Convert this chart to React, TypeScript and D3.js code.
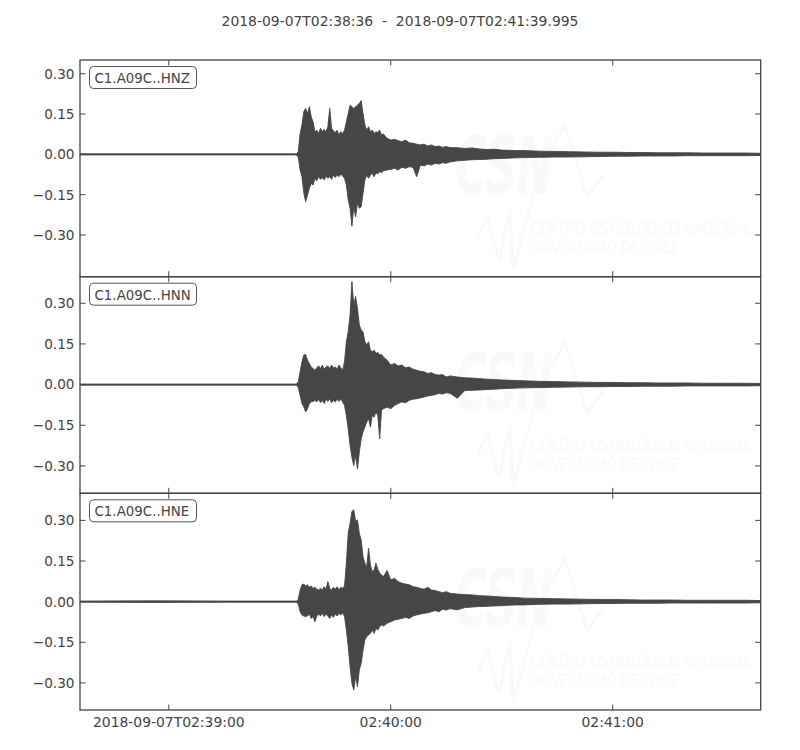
import React from "react";
import * as d3 from "d3";

const titleText = "2018-09-07T02:38:36  -  2018-09-07T02:41:39.995";
const traceLabels = ["C1.A09C..HNZ", "C1.A09C..HNN", "C1.A09C..HNE"];
const durationSec = 183.995;
const xTickSeconds = [24, 84, 144];
const xTickLabels = ["2018-09-07T02:39:00", "02:40:00", "02:41:00"];
const yTickValues = [0.3, 0.15, 0, -0.15, -0.3];
const yDomains: [number, number][] = [[-0.455, 0.351], [-0.401, 0.398], [-0.4, 0.4]];

// seconds after 02:38:36
const times = [
  0, 20, 40, 58,
  58.5, 59, 59.5, 60, 60.5, 61, 61.5, 62, 62.5, 63, 63.5, 64, 64.5, 65, 65.5, 66, 66.5, 67, 67.5, 68,
  68.5, 69, 69.5, 70, 70.5, 71, 71.5, 72, 72.5, 73, 73.5, 74, 74.5, 75, 75.5, 76, 76.5, 77, 77.5, 78,
  78.5, 79, 79.5, 80, 80.5, 81, 81.5, 82,
  83, 84, 85, 86, 87, 88, 89, 90, 91, 92, 93, 94, 95, 96, 97, 98, 99, 100,
  102, 104, 106, 108, 110, 112, 114, 116, 118, 120,
  124, 128, 132, 136, 140, 144, 148, 152, 156, 160, 164, 168, 172, 176, 180, 184,
];

const hnzMax = [
  0.002, 0.002, 0.002, 0.002,
  0.002, 0.01, 0.078, 0.109, 0.159, 0.171, 0.152, 0.177, 0.14, 0.12, 0.084, 0.09, 0.078, 0.097, 0.084, 0.093, 0.084, 0.103, 0.171, 0.097,
  0.088, 0.081, 0.09, 0.072, 0.084, 0.078, 0.09, 0.121, 0.152, 0.183, 0.177, 0.171, 0.177, 0.183, 0.19, 0.2, 0.152, 0.109, 0.09, 0.103,
  0.084, 0.09, 0.078, 0.084, 0.081, 0.09, 0.072, 0.076,
  0.06, 0.053, 0.056, 0.051, 0.047, 0.053, 0.043, 0.041, 0.038, 0.035, 0.038, 0.031, 0.035, 0.029, 0.031, 0.026, 0.029, 0.025,
  0.025, 0.022, 0.024, 0.02, 0.018, 0.019, 0.016, 0.015, 0.014, 0.014,
  0.012, 0.011, 0.01, 0.009, 0.008, 0.008, 0.007, 0.007, 0.006, 0.006, 0.006, 0.005, 0.005, 0.005, 0.005, 0.004,
];
const hnzMin = [
  -0.002, -0.002, -0.002, -0.002,
  -0.002, -0.01, -0.058, -0.083, -0.145, -0.176, -0.151, -0.126, -0.108, -0.114, -0.089, -0.098, -0.083, -0.093, -0.086, -0.095, -0.081, -0.089, -0.083, -0.093,
  -0.077, -0.086, -0.077, -0.083, -0.073, -0.081, -0.089, -0.114, -0.17, -0.2, -0.267, -0.195, -0.232, -0.182, -0.2, -0.195, -0.145, -0.095, -0.077, -0.089,
  -0.077, -0.071, -0.083, -0.068, -0.073, -0.064, -0.068, -0.061,
  -0.058, -0.056, -0.052, -0.058, -0.048, -0.052, -0.046, -0.048, -0.083, -0.04, -0.043, -0.036, -0.04, -0.033, -0.036, -0.031, -0.033, -0.028,
  -0.024, -0.022, -0.02, -0.019, -0.018, -0.016, -0.015, -0.014, -0.013, -0.012,
  -0.011, -0.01, -0.01, -0.009, -0.008, -0.007, -0.007, -0.006, -0.006, -0.006, -0.005, -0.005, -0.005, -0.005, -0.005, -0.004,
];

const hnnMax = [
  0.002, 0.002, 0.002, 0.002,
  0.002, 0.01, 0.047, 0.084, 0.109, 0.111, 0.09, 0.078, 0.065, 0.059, 0.053, 0.062, 0.069, 0.059, 0.072, 0.057, 0.065, 0.069, 0.059, 0.072,
  0.062, 0.065, 0.057, 0.072, 0.062, 0.053, 0.084, 0.158, 0.195, 0.257, 0.38, 0.294, 0.325, 0.281, 0.22, 0.201, 0.195, 0.158, 0.146, 0.158,
  0.127, 0.121, 0.127, 0.115, 0.119, 0.109, 0.111, 0.102,
  0.09, 0.072, 0.078, 0.069, 0.072, 0.062, 0.065, 0.057, 0.053, 0.049, 0.047, 0.041, 0.044, 0.037, 0.035, 0.037, 0.028, 0.032,
  0.028, 0.025, 0.024, 0.022, 0.02, 0.019, 0.017, 0.016, 0.015, 0.014,
  0.012, 0.011, 0.01, 0.009, 0.008, 0.008, 0.007, 0.007, 0.006, 0.006, 0.006, 0.005, 0.005, 0.005, 0.005, 0.004,
];
const hnnMin = [
  -0.002, -0.002, -0.002, -0.002,
  -0.002, -0.01, -0.04, -0.07, -0.083, -0.101, -0.089, -0.07, -0.064, -0.062, -0.058, -0.064, -0.054, -0.067, -0.058, -0.07, -0.054, -0.062, -0.052, -0.067,
  -0.058, -0.064, -0.054, -0.062, -0.052, -0.064, -0.077, -0.114, -0.163, -0.225, -0.268, -0.299, -0.262, -0.311, -0.249, -0.2, -0.175, -0.157, -0.138, -0.126,
  -0.157, -0.114, -0.12, -0.101, -0.114, -0.2, -0.095, -0.089,
  -0.083, -0.089, -0.077, -0.07, -0.064, -0.067, -0.058, -0.054, -0.052, -0.049, -0.046, -0.042, -0.04, -0.037, -0.033, -0.035, -0.03, -0.032,
  -0.05, -0.022, -0.021, -0.02, -0.018, -0.017, -0.015, -0.014, -0.013, -0.012,
  -0.011, -0.01, -0.009, -0.008, -0.008, -0.007, -0.007, -0.006, -0.006, -0.006, -0.005, -0.005, -0.005, -0.005, -0.005, -0.004,
];

const hneMax = [
  0.002, 0.003, 0.002, 0.002,
  0.002, 0.008, 0.043, 0.062, 0.065, 0.058, 0.062, 0.053, 0.058, 0.049, 0.053, 0.046, 0.043, 0.049, 0.043, 0.055, 0.046, 0.074, 0.049, 0.043,
  0.053, 0.046, 0.055, 0.043, 0.053, 0.049, 0.058, 0.142, 0.252, 0.289, 0.333, 0.339, 0.296, 0.302, 0.252, 0.228, 0.166, 0.142, 0.129, 0.197,
  0.135, 0.111, 0.117, 0.142, 0.119, 0.105, 0.099, 0.092,
  0.115, 0.08, 0.086, 0.074, 0.068, 0.065, 0.062, 0.055, 0.053, 0.049, 0.046, 0.053, 0.043, 0.041, 0.037, 0.033, 0.037, 0.031,
  0.028, 0.026, 0.025, 0.022, 0.021, 0.019, 0.017, 0.016, 0.015, 0.013,
  0.012, 0.011, 0.01, 0.009, 0.008, 0.008, 0.007, 0.006, 0.006, 0.006, 0.005, 0.005, 0.005, 0.005, 0.005, 0.004,
];
const hneMin = [
  -0.002, -0.003, -0.002, -0.002,
  -0.002, -0.008, -0.037, -0.049, -0.053, -0.055, -0.053, -0.046, -0.062, -0.055, -0.074, -0.053, -0.046, -0.053, -0.043, -0.055, -0.046, -0.053, -0.062, -0.049,
  -0.058, -0.046, -0.053, -0.043, -0.049, -0.041, -0.055, -0.105, -0.166, -0.24, -0.302, -0.326, -0.277, -0.314, -0.252, -0.228, -0.179, -0.142, -0.129, -0.123,
  -0.117, -0.105, -0.117, -0.099, -0.105, -0.092, -0.086, -0.09,
  -0.08, -0.074, -0.068, -0.065, -0.062, -0.058, -0.062, -0.053, -0.049, -0.046, -0.043, -0.041, -0.037, -0.033, -0.037, -0.028, -0.031, -0.026,
  -0.03, -0.022, -0.02, -0.018, -0.017, -0.016, -0.015, -0.013, -0.012, -0.012,
  -0.01, -0.009, -0.009, -0.008, -0.007, -0.007, -0.006, -0.006, -0.006, -0.005, -0.005, -0.005, -0.005, -0.005, -0.005, -0.004,
];

const maxSeries = [hnzMax, hnnMax, hneMax];
const minSeries = [hnzMin, hnnMin, hneMin];

const FONT = "'DejaVu Sans', sans-serif";
const INK = "#444444";
const WAVE = "#464646";
const MARK = "#f9f9f9";

const plotLeft = 80;
const plotRight = 760.7;
const panelEdges = [60, 276.7, 493.3, 710];
const tickLen = 5.5;

export default function App() {
  const x = d3.scaleLinear().domain([0, durationSec]).range([plotLeft, plotRight]);
  const fmt = d3.format(".2f");

  const panels = traceLabels.map((label, i) => {
    const top = panelEdges[i];
    const bottom = panelEdges[i + 1];
    const y = d3.scaleLinear().domain(yDomains[i]).range([bottom, top]);
    const pts = times.map((t, k) => ({ t, hi: maxSeries[i][k], lo: minSeries[i][k] }));
    const area = d3
      .area<{ t: number; hi: number; lo: number }>()
      .x((d) => x(d.t))
      .y0((d) => y(d.lo))
      .y1((d) => y(d.hi))
      .curve(d3.curveLinear);
    const clipId = `clip${i}`;
    return (
      <g key={label}>
        <defs>
          <clipPath id={clipId}>
            <rect x={plotLeft} y={top} width={plotRight - plotLeft} height={bottom - top} />
          </clipPath>
        </defs>
        {/* watermark */}
        <g clipPath={`url(#${clipId})`} fill={MARK} stroke="none">
          <text
            x={455}
            y={top + 134}
            fontFamily={FONT}
            fontWeight="bold"
            fontStyle="italic"
            fontSize={80}
            textLength={98}
            lengthAdjust="spacingAndGlyphs"
          >
            CSN
          </text>
          <polyline
            points={`${478},${top + 178} ${487},${top + 157} ${499},${top + 200} ${510},${top + 148} ${513},${top + 210} ${540},${top + 110} ${565},${top + 65} ${587},${top + 137} ${603},${top + 115}`}
            fill="none"
            stroke={MARK}
            strokeWidth={3}
          />
          <text
            x={531}
            y={top + 174}
            fontFamily={FONT}
            fontStyle="italic"
            fontSize={15}
            textLength={220}
            lengthAdjust="spacingAndGlyphs"
          >
            CENTRO SISMOLÓGICO NACIONAL
          </text>
          <text
            x={529}
            y={top + 193}
            fontFamily={FONT}
            fontStyle="italic"
            fontSize={15}
            textLength={150}
            lengthAdjust="spacingAndGlyphs"
          >
            UNIVERSIDAD DE CHILE
          </text>
        </g>
        {/* waveform */}
        <g clipPath={`url(#${clipId})`}>
          <path d={area(pts) || ""} fill={WAVE} stroke={WAVE} strokeWidth={0.9} strokeLinejoin="miter" />
        </g>
        {/* frame */}
        <rect
          x={plotLeft}
          y={top}
          width={plotRight - plotLeft}
          height={bottom - top}
          fill="none"
          stroke={INK}
          strokeWidth={1.3}
        />
        {/* y ticks */}
        {yTickValues.map((v) => (
          <g key={v}>
            <line x1={plotLeft} x2={plotLeft + tickLen} y1={y(v)} y2={y(v)} stroke={INK} strokeWidth={1} />
            <line x1={plotRight} x2={plotRight - tickLen} y1={y(v)} y2={y(v)} stroke={INK} strokeWidth={1} />
            <text
              x={plotLeft - 5.5}
              y={y(v)}
              dy="0.36em"
              textAnchor="end"
              fontFamily={FONT}
              fontSize={13.6}
              fill={INK}
            >
              {fmt(v)}
            </text>
          </g>
        ))}
        {/* x ticks */}
        {xTickSeconds.map((s) => (
          <g key={s}>
            <line x1={x(s)} x2={x(s)} y1={top} y2={top + tickLen} stroke={INK} strokeWidth={1} />
            <line x1={x(s)} x2={x(s)} y1={bottom} y2={bottom - tickLen} stroke={INK} strokeWidth={1} />
          </g>
        ))}
        {/* label box */}
        <rect x={89.5} y={top + 6.5} width={107} height={22} rx={4} fill="white" stroke="#555" strokeWidth={1} />
        <text x={94.5} y={top + 23} fontFamily={FONT} fontSize={13.4} fill={INK}>
          {label}
        </text>
      </g>
    );
  });

  return (
    <div style={{ position: "absolute", left: 0, top: 0 }}>
      <svg width={800} height={750} viewBox="0 0 800 750" style={{ display: "block", background: "white" }}>
        <rect x={0} y={0} width={800} height={750} fill="white" />
        <text
          x={400}
          y={26}
          textAnchor="middle"
          fontFamily={FONT}
          fontSize={13.9}
          fill={INK}
          xmlSpace="preserve"
          style={{ whiteSpace: "pre" }}
        >
          {titleText}
        </text>
        {panels}
        {xTickSeconds.map((s, k) => (
          <text
            key={s}
            x={x(s)}
            y={727}
            textAnchor="middle"
            fontFamily={FONT}
            fontSize={13.9}
            fill={INK}
          >
            {xTickLabels[k]}
          </text>
        ))}
      </svg>
    </div>
  );
}
